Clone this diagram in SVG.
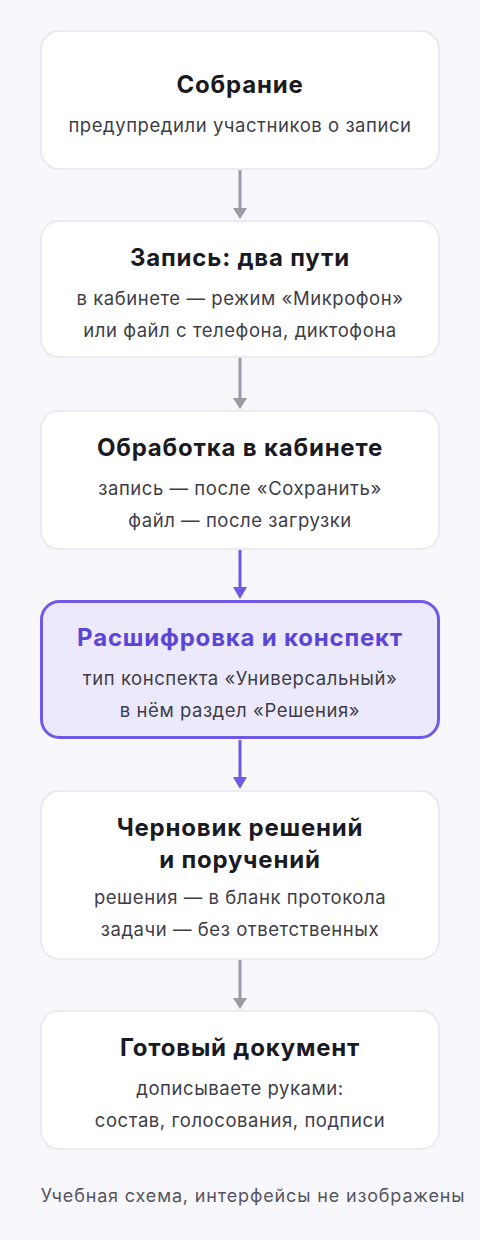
<svg xmlns="http://www.w3.org/2000/svg" width="480" height="1240" viewBox="0 0 480 1240">
<style>
.box{fill:#ffffff;stroke:#e6e6ee;stroke-width:1.5}
.hl{fill:#ece9fd;stroke:#6e5ae6;stroke-width:3}
.t{font-family:Inter,"Noto Sans",sans-serif;font-size:24px;font-weight:700;letter-spacing:0.8px;fill:#1a1a22;text-anchor:middle}
.th{fill:#5a45d8}
.s{font-family:Inter,"Noto Sans",sans-serif;font-size:18.5px;letter-spacing:0.55px;fill:#3d3d47;text-anchor:middle}
.f{font-family:Inter,"Noto Sans",sans-serif;font-size:18px;letter-spacing:0.85px;fill:#55555f;text-anchor:middle}
.cg{stroke:#9b9aa6;stroke-width:3;fill:none}
.cp{stroke:#6e5ae6;stroke-width:3;fill:none}
</style>
<rect width="480" height="1240" fill="#f7f7fc"/>
<g id="connectors">
<line class="cg" x1="240" y1="170" x2="240" y2="210"/><path d="M233,208 L247,208 L240,219 Z" fill="#9b9aa6"/>
<line class="cg" x1="240" y1="358" x2="240" y2="400"/><path d="M233,398 L247,398 L240,409 Z" fill="#9b9aa6"/>
<line class="cp" x1="240" y1="550" x2="240" y2="590"/><path d="M233,587 L247,587 L240,599 Z" fill="#6e5ae6"/>
<line class="cp" x1="240" y1="740" x2="240" y2="780"/><path d="M233,777 L247,777 L240,789 Z" fill="#6e5ae6"/>
<line class="cg" x1="240" y1="960" x2="240" y2="1000"/><path d="M233,998 L247,998 L240,1009 Z" fill="#9b9aa6"/>
</g>
<g id="n1">
<rect class="box" x="41" y="31" width="398" height="138" rx="18"/>
<text class="t" x="240" y="93">Собрание</text>
<text class="s" x="240" y="132">предупредили участников о записи</text>
</g>
<g id="n2">
<rect class="box" x="41" y="221" width="398" height="136" rx="18"/>
<text class="t" x="240" y="266">Запись: два пути</text>
<text class="s" x="240" y="305">в кабинете — режим «Микрофон»</text>
<text class="s" x="240" y="337">или файл с телефона, диктофона</text>
</g>
<g id="n3">
<rect class="box" x="41" y="411" width="398" height="138" rx="18"/>
<text class="t" x="240" y="456">Обработка в кабинете</text>
<text class="s" x="240" y="495">запись — после «Сохранить»</text>
<text class="s" x="240" y="527">файл — после загрузки</text>
</g>
<g id="n4">
<rect class="hl" x="41.5" y="601.5" width="397" height="136" rx="18"/>
<text class="t th" x="240" y="646">Расшифровка и конспект</text>
<text class="s" x="240" y="685">тип конспекта «Универсальный»</text>
<text class="s" x="240" y="717">в нём раздел «Решения»</text>
</g>
<g id="n5">
<rect class="box" x="41" y="791" width="398" height="168" rx="18"/>
<text class="t" x="240" y="836">Черновик решений</text>
<text class="t" x="240" y="868">и поручений</text>
<text class="s" x="240" y="904">решения — в бланк протокола</text>
<text class="s" x="240" y="936">задачи — без ответственных</text>
</g>
<g id="n6">
<rect class="box" x="41" y="1011" width="398" height="138" rx="18"/>
<text class="t" x="240" y="1056">Готовый документ</text>
<text class="s" x="240" y="1095">дописываете руками:</text>
<text class="s" x="240" y="1127">состав, голосования, подписи</text>
</g>
<text class="f" x="253" y="1202">Учебная схема, интерфейсы не изображены</text>
</svg>
